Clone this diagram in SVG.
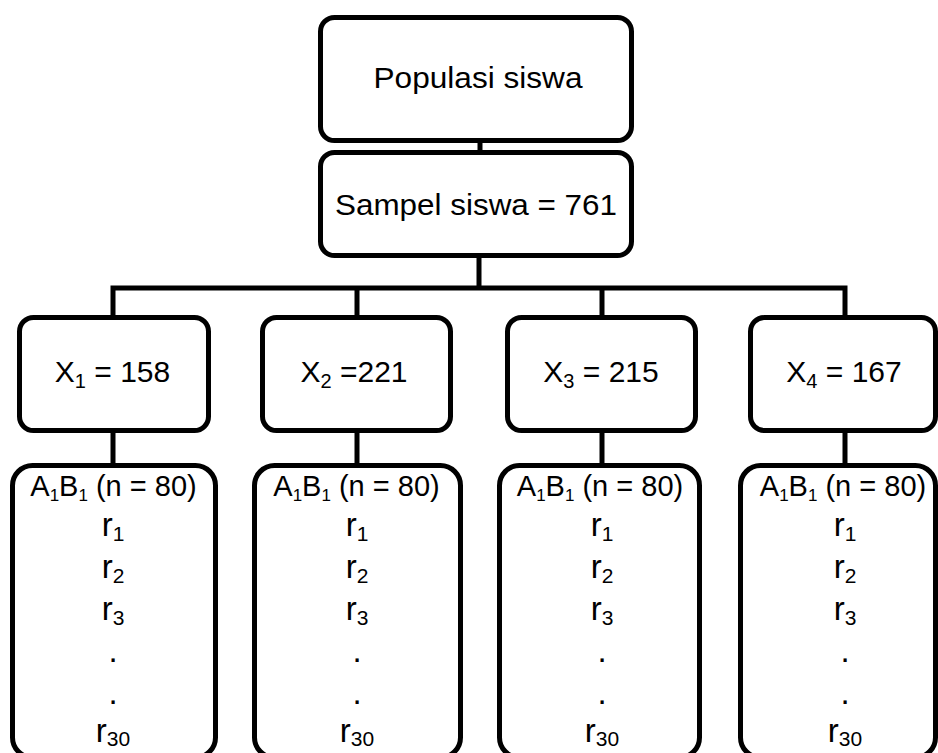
<svg xmlns="http://www.w3.org/2000/svg" width="938" height="753" viewBox="0 0 938 753">
<style>
.box{fill:#fff;stroke:#000;stroke-width:5}
.ln{fill:none;stroke:#000;stroke-width:5}
text{font-family:"Liberation Sans",Arial,sans-serif;fill:#000;text-anchor:middle}
.big{font-size:30px}
.mid{font-size:29px}
.r{font-size:33px}
.sx{font-size:20px}
.sa{font-size:17px}
.sr{font-size:21px}
</style>
<rect width="938" height="753" fill="#fff"/>
<g id="connectors">
<path class="ln" d="M480 140 V154"/>
<path class="ln" d="M479 255 V288 M110.5 288 H847.5 M113 288 V319 M357 288 V319 M602 288 V319 M845 288 V319"/>
<path class="ln" d="M113 430 V467 M357 430 V467 M602 430 V467 M845 430 V467"/>
</g>
<g id="populasi">
<rect class="box" x="320.5" y="17.5" width="311" height="123" rx="14"/>
<text class="mid" x="478" y="88" textLength="209" lengthAdjust="spacingAndGlyphs">Populasi siswa</text>
</g>
<g id="sampel">
<rect class="box" x="320.5" y="152.5" width="311" height="103" rx="14"/>
<text class="big" x="476" y="215" textLength="282" lengthAdjust="spacingAndGlyphs">Sampel siswa = 761</text>
</g>
<g id="x1">
<rect class="box" x="19.5" y="317.5" width="189" height="113" rx="14"/>
<text class="big" x="112.5" y="382">X<tspan class="sx" dy="6">1</tspan><tspan dy="-6"> = 158</tspan></text>
</g>
<g id="x2">
<rect class="box" x="262.5" y="317.5" width="188" height="113" rx="14"/>
<text class="big" x="354" y="382">X<tspan class="sx" dy="6">2</tspan><tspan dy="-6"> =221</tspan></text>
</g>
<g id="x3">
<rect class="box" x="507.5" y="317.5" width="188" height="113" rx="14"/>
<text class="big" x="601" y="382">X<tspan class="sx" dy="6">3</tspan><tspan dy="-6"> = 215</tspan></text>
</g>
<g id="x4">
<rect class="box" x="750.5" y="317.5" width="185" height="113" rx="14"/>
<text class="big" x="844" y="382">X<tspan class="sx" dy="6">4</tspan><tspan dy="-6"> = 167</tspan></text>
</g>
<g id="col1">
<rect class="box" x="12.5" y="465.5" width="203" height="292" rx="20"/>
<text class="mid" x="113.5" y="496">A<tspan class="sa" dy="5">1</tspan><tspan dy="-5">B</tspan><tspan class="sa" dy="5">1</tspan><tspan dy="-5"> (n = 80)</tspan></text>
<text class="r" x="113" y="536">r<tspan class="sr" dy="5">1</tspan></text>
<text class="r" x="113" y="578">r<tspan class="sr" dy="5">2</tspan></text>
<text class="r" x="113" y="620">r<tspan class="sr" dy="5">3</tspan></text>
<text class="r" x="113" y="662">.</text>
<text class="r" x="113" y="704">.</text>
<text class="r" x="113" y="742">r<tspan class="sr" dy="4">30</tspan></text>
</g>
<g id="col2">
<rect class="box" x="254.5" y="465.5" width="206" height="292" rx="20"/>
<text class="mid" x="356.5" y="496">A<tspan class="sa" dy="5">1</tspan><tspan dy="-5">B</tspan><tspan class="sa" dy="5">1</tspan><tspan dy="-5"> (n = 80)</tspan></text>
<text class="r" x="357" y="536">r<tspan class="sr" dy="5">1</tspan></text>
<text class="r" x="357" y="578">r<tspan class="sr" dy="5">2</tspan></text>
<text class="r" x="357" y="620">r<tspan class="sr" dy="5">3</tspan></text>
<text class="r" x="357" y="662">.</text>
<text class="r" x="357" y="704">.</text>
<text class="r" x="357" y="742">r<tspan class="sr" dy="4">30</tspan></text>
</g>
<g id="col3">
<rect class="box" x="499.5" y="465.5" width="200" height="292" rx="20"/>
<text class="mid" x="600" y="496">A<tspan class="sa" dy="5">1</tspan><tspan dy="-5">B</tspan><tspan class="sa" dy="5">1</tspan><tspan dy="-5"> (n = 80)</tspan></text>
<text class="r" x="602" y="536">r<tspan class="sr" dy="5">1</tspan></text>
<text class="r" x="602" y="578">r<tspan class="sr" dy="5">2</tspan></text>
<text class="r" x="602" y="620">r<tspan class="sr" dy="5">3</tspan></text>
<text class="r" x="602" y="662">.</text>
<text class="r" x="602" y="704">.</text>
<text class="r" x="602" y="742">r<tspan class="sr" dy="4">30</tspan></text>
</g>
<g id="col4">
<rect class="box" x="740.5" y="465.5" width="195" height="292" rx="20"/>
<text class="mid" x="843" y="496">A<tspan class="sa" dy="5">1</tspan><tspan dy="-5">B</tspan><tspan class="sa" dy="5">1</tspan><tspan dy="-5"> (n = 80)</tspan></text>
<text class="r" x="845" y="536">r<tspan class="sr" dy="5">1</tspan></text>
<text class="r" x="845" y="578">r<tspan class="sr" dy="5">2</tspan></text>
<text class="r" x="845" y="620">r<tspan class="sr" dy="5">3</tspan></text>
<text class="r" x="845" y="662">.</text>
<text class="r" x="845" y="704">.</text>
<text class="r" x="845" y="742">r<tspan class="sr" dy="4">30</tspan></text>
</g>
</svg>
